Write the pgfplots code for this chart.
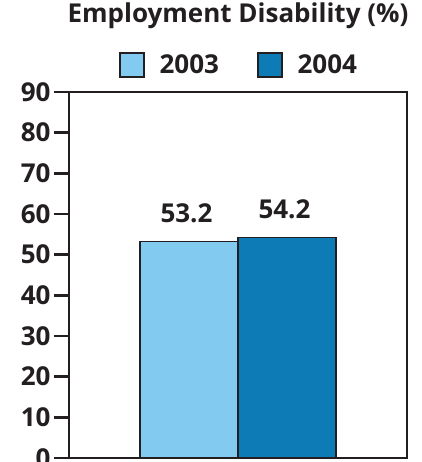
\documentclass[border=0pt]{standalone}
\usepackage{pgfplots}
\pgfplotsset{compat=1.18}
\usepackage{fontspec}
\setmainfont{Open Sans}

\definecolor{ink}{HTML}{231F20}
\definecolor{lightblue}{HTML}{82CAF0}
\definecolor{darkblue}{HTML}{0C7BB6}

\newcommand{\chartfont}{\fontsize{26}{31}\selectfont\bfseries}

\begin{document}
\begin{tikzpicture}
\begin{axis}[
  at={(69pt,-458pt)}, anchor=south west,
  scale only axis, width=338pt, height=366pt,
  xmin=-1, xmax=1, ymin=0, ymax=90,
  xtick=\empty,
  ytick={0,10,...,90},
  ytick pos=left, tick align=outside,
  major tick length=15pt,
  axis line style={ink, line width=2.8pt},
  every tick/.style={ink, line width=2.8pt},
  tick label style={font=\chartfont, text=ink},
  /pgf/number format/assume math mode=true,
  ybar=0pt, bar width=98pt,
  title={Employment Disability (\%)},
  title style={font=\chartfont, text=ink, at={(axis description cs:0.5,1)}, anchor=base, yshift=64pt},
  legend columns=2,
  legend style={draw=none, fill=none, inner sep=0pt, at={(0.5,1)}, anchor=south, yshift=14pt,
    font=\chartfont, text=ink, nodes={inner sep=0pt},
    /tikz/column sep=15pt,
    /tikz/every even column/.append style={column sep=38pt}},
  legend image code/.code={\draw[#1, draw=ink, line width=1.6pt] (0pt,-12pt) rectangle (24pt,12pt);},
  nodes near coords,
  every node near coord/.append style={font=\chartfont, text=ink, anchor=south, inner sep=0pt, yshift=18.5pt, xshift=-2.5pt},
  nodes near coords={\pgfmathprintnumber[fixed, fixed zerofill, precision=1]{\pgfplotspointmeta}},
]
\addplot[fill=lightblue, draw=ink, line width=1.2pt] coordinates {(0,53.2)};
\addplot[fill=darkblue, draw=ink, line width=1.2pt] coordinates {(0,54.2)};
\legend{2003,2004}
% heavier frame drawn over the bars, as in the reference
\draw[ink, line width=2.8pt, line join=miter] (rel axis cs:0,0) rectangle (rel axis cs:1,1);
\end{axis}
\pgfresetboundingbox
\path[use as bounding box] (0pt,0pt) rectangle (421pt,-462pt);
\end{tikzpicture}
\end{document}
